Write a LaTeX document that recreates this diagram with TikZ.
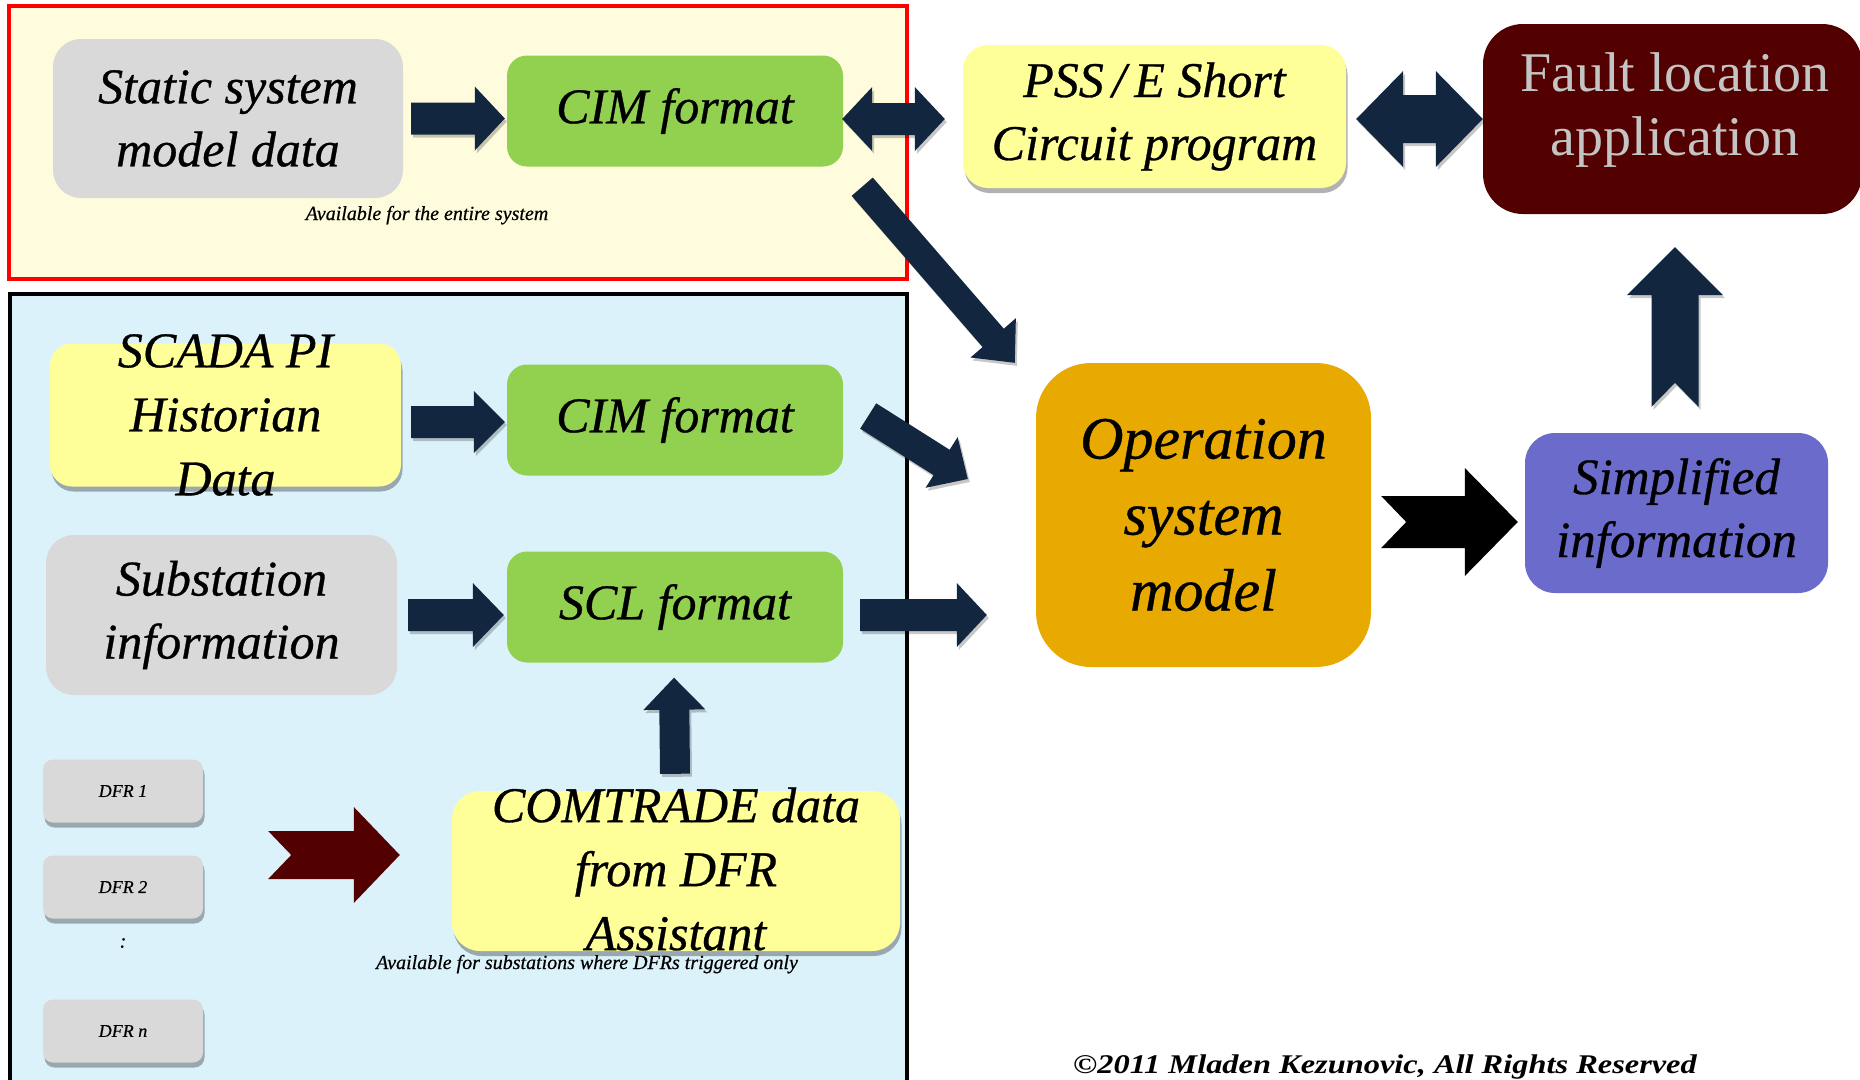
\documentclass[tikz,border=0pt]{standalone}
\usepackage{fontspec}
\setmainfont{Liberation Serif}
\newfontfamily\gfont[ItalicFeatures={FakeBold=0.6}]{Liberation Serif}
\usepackage{graphicx}
\usetikzlibrary{calc,shadows}

\definecolor{regY}{HTML}{FEFCDD}
\definecolor{regB}{HTML}{DCF2FB}
\definecolor{boxgray}{HTML}{D9D9D9}
\definecolor{boxgreen}{HTML}{92D050}
\definecolor{boxyellow}{HTML}{FFFF99}
\definecolor{boxred}{HTML}{520000}
\definecolor{navy}{HTML}{13263F}
\definecolor{boxorange}{HTML}{E8AA00}
\definecolor{boxpurple}{HTML}{6B6BCC}
\definecolor{faulttext}{HTML}{C4C4C4}

\newcommand\bigtxt{\gfont\itshape\fontsize{50}{63}\selectfont}
\newcommand\notetxt{\gfont\itshape\fontsize{20}{24}\selectfont}

% block arrow: #1 style, #2 tail, #3 tip, #4 half shaft, #5 half head, #6 head length, #7 notch depth
\newcommand\barrow[7]{%
  \coordinate (bt) at #2;
  \coordinate (bh) at #3;
  \coordinate (bb) at ($(bh)!#6!(bt)$);
  \coordinate (bn) at ($(bt)!#7!(bh)$);
  \fill[#1] ($(bt)!#4!90:(bh)$) -- ($(bb)!#4!-90:(bt)$) -- ($(bb)!#5!-90:(bt)$) -- (bh)
    -- ($(bb)!#5!90:(bt)$) -- ($(bb)!#4!90:(bt)$) -- ($(bt)!#4!-90:(bh)$) -- (bn) -- cycle;
}
% double block arrow: #1 style, #2 tip1, #3 tip2, #4 half shaft, #5 half head, #6 head length
\newcommand\dbarrow[6]{%
  \coordinate (bt) at #2;
  \coordinate (bh) at #3;
  \coordinate (bb) at ($(bh)!#6!(bt)$);
  \coordinate (ba) at ($(bt)!#6!(bh)$);
  \fill[#1] (bt) -- ($(ba)!#5!90:(bh)$) -- ($(ba)!#4!90:(bh)$) -- ($(bb)!#4!-90:(bt)$)
    -- ($(bb)!#5!-90:(bt)$) -- (bh) -- ($(bb)!#5!90:(bt)$) -- ($(bb)!#4!90:(bt)$)
    -- ($(ba)!#4!-90:(bh)$) -- ($(ba)!#5!-90:(bh)$) -- cycle;
}

\tikzset{
  blk/.style={rectangle, inner sep=0pt, align=center, font=\bigtxt, text=black},
  graybox/.style={blk, fill=boxgray},
  greenbox/.style={blk, fill=boxgreen, rounded corners=20pt, minimum width=336pt, minimum height=111pt},
  yshadow/.style={drop shadow={shadow xshift=1.5pt, shadow yshift=-5pt, opacity=0.3, fill=black}},
  yellowbox/.style={blk, fill=boxyellow, yshadow},
  dfrbox/.style={rectangle, inner sep=0pt, fill=boxgray, rounded corners=10pt,
    minimum width=160pt, minimum height=63pt, yshadow, font=\gfont\itshape\fontsize{18}{20}\selectfont},
  txt/.style={inner sep=0pt, align=center, font=\bigtxt},
  note/.style={inner sep=0pt, anchor=base, font=\notetxt},
  navyarrow/.style={fill=navy, drop shadow={shadow xshift=2pt, shadow yshift=-3pt, opacity=0.22, fill=black}},
}

\begin{document}
\begin{tikzpicture}[x=1pt,y=-1pt]
\useasboundingbox (0,0) rectangle (1860,1079);
\clip (0,0) rectangle (1860,1079);

% regions
\draw[red, line width=4pt, fill=regY] (9,6) rectangle (907,279);
\draw[black, line width=4pt, fill=regB] (10,294) rectangle (907,1100);

% boxes
\node[graybox, rounded corners=28pt, minimum width=350pt, minimum height=159pt] (static) at (228,118.5) {Static system\\model data};
\node[greenbox] (cimA) at (675,111) {CIM format};
\node[yellowbox, rounded corners=25pt, minimum width=383pt, minimum height=143pt] (pss) at (1154.5,116.5) {PSS\,/\,E Short\\Circuit program};
\node[blk, fill=boxred, rounded corners=40pt, minimum width=379pt, minimum height=190pt] (fault) at (1672.5,119) {};
\node[inner sep=0pt, align=center, text=faulttext, font=\fontsize{56}{64}\selectfont] (faultt) at (1675,110) {Fault location\\application};

\node[yellowbox, rounded corners=22pt, minimum width=351pt, minimum height=143pt] (scada) at (225.5,415) {};
\node[txt, font=\gfont\itshape\fontsize{50}{64}\selectfont] (scadat) at (225.5,415) {SCADA PI\\Historian\\Data};
\node[greenbox] (cimB) at (675,420) {CIM format};

\node[graybox, rounded corners=28pt, minimum width=351pt, minimum height=160pt] (sub) at (221.5,615) {Substation\\information};
\node[greenbox] (scl) at (675,607) {SCL format};

\node[yellowbox, rounded corners=28pt, minimum width=448pt, minimum height=160pt] (comtrade) at (676,871) {};
\node[txt, font=\gfont\itshape\fontsize{50}{64}\selectfont] (comtradet) at (676,869) {COMTRADE data\\from DFR\\Assistant};

\node[blk, fill=boxorange, rounded corners=55pt, minimum width=335pt, minimum height=304pt, font=\gfont\itshape\fontsize{60}{76}\selectfont] (op) at (1203.5,515) {Operation\\system\\model};
\node[blk, fill=boxpurple, rounded corners=30pt, minimum width=303pt, minimum height=160pt, font=\gfont\itshape\fontsize{51}{63}\selectfont] (simp) at (1676.5,513) {Simplified\\information};

\node[dfrbox] (dfr1) at (123,791) {DFR 1};
\node[dfrbox] (dfr2) at (123,887) {DFR 2};
\node[dfrbox] (dfrn) at (123,1031) {DFR n};
\node[inner sep=0pt, font=\gfont\itshape\fontsize{20}{24}\selectfont] (dots) at (123,943) {:};

% notes
\node[note] (note1) at (427,220) {Available for the entire system};
\node[note] (note2) at (587,969) {Available for substations where DFRs triggered only};
\node[inner sep=0pt, anchor=base, font=\bfseries\itshape\fontsize{27}{30}\selectfont] (copy) at (1385,1073) {\scalebox{1.2}[1]{\textcopyright2011 Mladen Kezunovic, All Rights Reserved}};

% arrows
\coordinate (rowA) at (0,119);
\barrow{navyarrow}{($(static.east)+(8,0)$)}{($(cimA.west |- static.east)+(-2,0)$)}{16pt}{32pt}{30pt}{0pt}
\dbarrow{navyarrow}{($(cimA.east |- rowA)+(-1,0)$)}{($(pss.west |- rowA)+(-18,0)$)}{16pt}{32pt}{30pt}
\dbarrow{navyarrow}{($(pss.east |- rowA)+(10,0)$)}{(fault.west |- rowA)}{24pt}{48pt}{47pt}
\barrow{navyarrow}{($(cimA.south east)+(19,20)$)}{($(op.north west)+(-21,0)$)}{14pt}{30pt}{33pt}{0pt}
\barrow{navyarrow}{($(scada.east |- cimB.west)+(10,2)$)}{($(cimB.west)+(-2,2)$)}{16pt}{31pt}{31pt}{0pt}
\barrow{navyarrow}{($(cimB.east)+(25,-4)$)}{($(op.west)+(-68,-36)$)}{15pt}{30pt}{31pt}{0pt}
\barrow{navyarrow}{($(sub.east)+(11,0)$)}{($(scl.west |- sub.east)+(-3,0)$)}{16pt}{32pt}{31pt}{0pt}
\barrow{navyarrow}{($(scl.east |- sub.east)+(17,0)$)}{($(op.west |- sub.east)+(-49,0)$)}{16pt}{32pt}{30pt}{0pt}
\barrow{navyarrow}{($(comtrade.north)+(-1,-17)$)}{($(scl.south)+(-1,15)$)}{15pt}{31pt}{32pt}{0pt}
\barrow{fill=boxred}{($(dfr1.east)+(65,64)$)}{($(comtrade.west)+(-52,-16)$)}{24pt}{48pt}{46pt}{23pt}
\barrow{fill=black}{($(op.east)+(10,7)$)}{($(simp.west)+(-7,9)$)}{26pt}{54pt}{53pt}{25pt}
\barrow{navyarrow}{($(simp.north)+(-1.5,-26)$)}{($(fault.south)+(2.5,33)$)}{23.5pt}{48pt}{48pt}{24pt}
\end{tikzpicture}
\end{document}
